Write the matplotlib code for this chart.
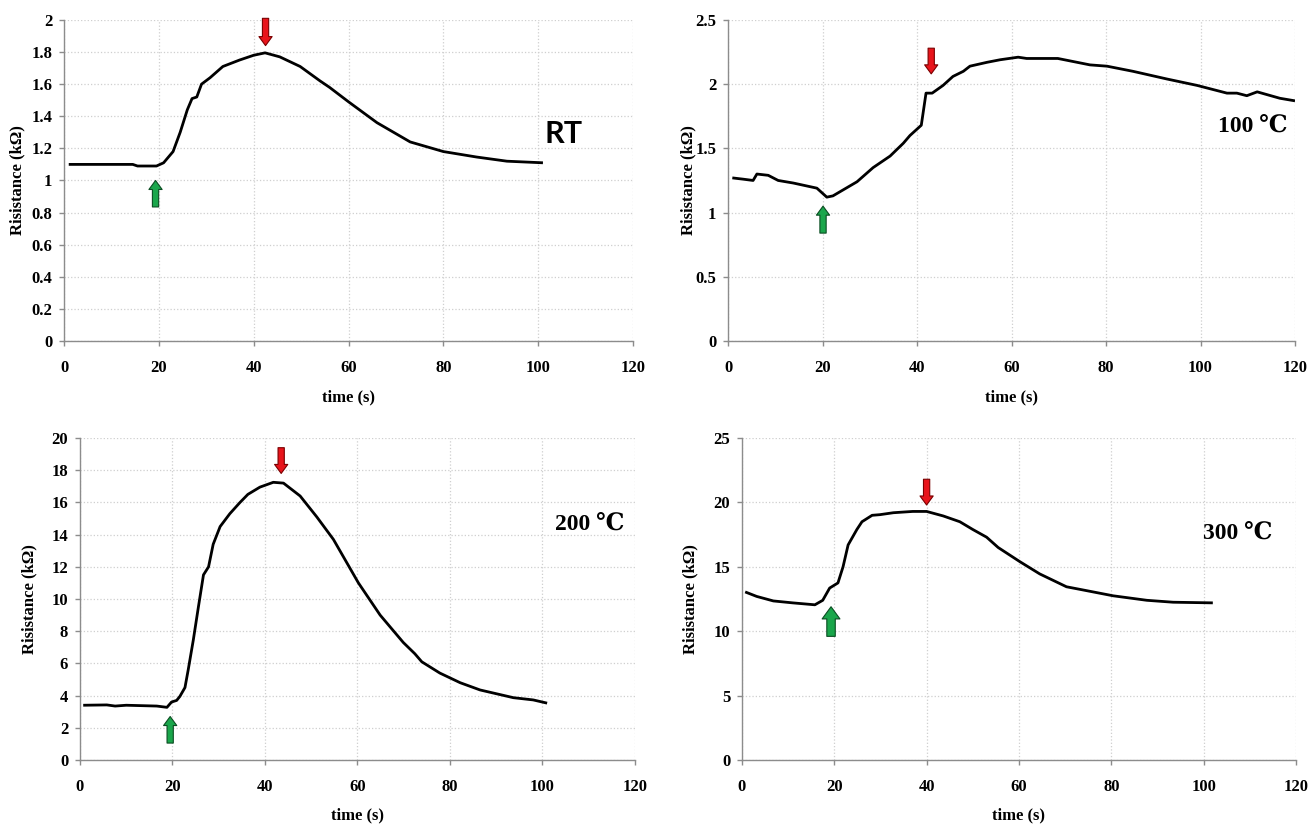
import matplotlib
matplotlib.use("Agg")
import matplotlib.pyplot as plt
import numpy as np

# ---------------- data ----------------
rt_t = [1, 5, 10, 14.5, 15.5, 19.5, 21, 23, 24.5, 26, 27, 28, 29, 30.8, 33.5, 37, 40, 42.4,
        45.5, 49.8, 54, 56, 60, 66, 73, 80, 87, 93.4, 101]
rt_r = [1.10, 1.10, 1.10, 1.10, 1.09, 1.09, 1.11, 1.18, 1.30, 1.44, 1.51, 1.52, 1.60, 1.64,
        1.71, 1.75, 1.78, 1.795, 1.77, 1.71, 1.62, 1.58, 1.49, 1.36, 1.24, 1.18, 1.146, 1.12, 1.11]

t100_t = [0.9, 3.2, 5.3, 6.1, 8.5, 10.6, 13.8, 18.8, 20.9, 22.2, 27.3, 30.7, 34.3, 37.1, 38.5,
          40.9, 41.9, 43.2, 45.5, 47.6, 49.8, 51.2, 54.8, 57.6, 61.4, 63.2, 69.8, 76.6, 80.2,
          85.7, 92.9, 99.3, 105.6, 107.7, 109.8, 112, 116.8, 120]
t100_r = [1.27, 1.26, 1.25, 1.30, 1.29, 1.25, 1.23, 1.19, 1.12, 1.13, 1.24, 1.35, 1.44, 1.54,
          1.60, 1.68, 1.93, 1.93, 1.99, 2.06, 2.10, 2.14, 2.17, 2.19, 2.21, 2.20, 2.20, 2.15,
          2.14, 2.10, 2.04, 1.99, 1.93, 1.93, 1.91, 1.94, 1.89, 1.87]

t200_t = [0.7, 5.8, 7.6, 10, 16.6, 18.8, 19.8, 20.9, 21.6, 22.7, 23.4, 24.5, 25.6, 26.7, 27.8,
          28.8, 30.3, 32.4, 34.6, 36.3, 38.9, 41.8, 44, 47.6, 51.2, 54.8, 60.2, 64.9, 69.9,
          72.4, 73.9, 77.8, 82.2, 86.5, 93.7, 98, 101]
t200_r = [3.4, 3.42, 3.35, 3.4, 3.35, 3.27, 3.6, 3.7, 3.95, 4.5, 5.6, 7.45, 9.5, 11.5, 12.0,
          13.4, 14.5, 15.3, 16.0, 16.5, 16.95, 17.25, 17.2, 16.4, 15.1, 13.7, 11.0, 9.0, 7.3,
          6.6, 6.1, 5.4, 4.8, 4.35, 3.87, 3.73, 3.53]

t300_t = [0.7, 3.2, 6.8, 11, 15.8, 17.5, 19, 20.8, 21.9, 23, 24.9, 26, 28.2, 29.9, 32.8, 37,
          40, 43.6, 47.2, 50, 53, 55.5, 60.2, 64.5, 70.3, 73.2, 80.4, 87.7, 93.4, 102]
t300_r = [13.05, 12.7, 12.35, 12.2, 12.05, 12.4, 13.35, 13.75, 15.0, 16.7, 17.9, 18.5, 19.0,
          19.05, 19.2, 19.3, 19.3, 18.95, 18.5, 17.9, 17.3, 16.5, 15.4, 14.45, 13.45, 13.25,
          12.75, 12.4, 12.25, 12.2]

x_ticks = [0, 20, 40, 60, 80, 100, 120]
rt_yticks = [0, 0.2, 0.4, 0.6, 0.8, 1.0, 1.2, 1.4, 1.6, 1.8, 2.0]
rt_ylabels = ["0", "0.2", "0.4", "0.6", "0.8", "1", "1.2", "1.4", "1.6", "1.8", "2"]
t100_yticks = [0, 0.5, 1.0, 1.5, 2.0, 2.5]
t100_ylabels = ["0", "0.5", "1", "1.5", "2", "2.5"]
t200_yticks = list(range(0, 21, 2))
t300_yticks = list(range(0, 26, 5))

labels = ["RT", "100 \u2103", "200 \u2103", "300 \u2103"]
# (x, y) of label anchor
label_pos = [(101.4, 1.29), (103.7, 1.67), (102.7, 14.66), (99.8, 17.6)]
# arrows: (x, tail_y, tip_y)
red_arrows = [(42.5, 2.01, 1.84), (43.0, 2.28, 2.08), (43.5, 19.4, 17.8), (40.0, 21.8, 19.8)]
green_arrows = [(19.3, 0.835, 1.0), (20.1, 0.84, 1.05), (19.5, 1.05, 2.7), (19.3, 9.6, 11.9)]
green_scale = [1.0, 1.0, 1.0, 1.35]

# ---------------- figure ----------------
serif = ["Liberation Serif", "DejaVu Serif"]
fig = plt.figure(figsize=(13.09, 8.24), dpi=100)
rects = [
    [0.0489, 0.5862, 0.4347, 0.3896],
    [0.5562, 0.5862, 0.4331, 0.3896],
    [0.0611, 0.0777, 0.4240, 0.3907],
    [0.5668, 0.0777, 0.4232, 0.3907],
]
ylab_x = [-0.067, -0.056, -0.076, -0.079]
xlab_y = [-0.15, -0.15, -0.146, -0.146]

series = [(rt_t, rt_r), (t100_t, t100_r), (t200_t, t200_r), (t300_t, t300_r)]
yticks = [rt_yticks, t100_yticks, t200_yticks, t300_yticks]
ylabs = [rt_ylabels, t100_ylabels, [str(v) for v in t200_yticks], [str(v) for v in t300_yticks]]
ylims = [2.0, 2.5, 20, 25]

for i in range(4):
    ax = fig.add_axes(rects[i])
    t, r = series[i]
    ax.plot(t, r, color="black", lw=2.0, solid_joinstyle="round", solid_capstyle="butt")
    ax.set_xlim(0, 120)
    ax.set_ylim(0, ylims[i])
    ax.set_xticks(x_ticks)
    ax.set_xticklabels([str(v) for v in x_ticks], family=serif, fontweight="bold", fontsize=12)
    ax.set_yticks(yticks[i])
    ax.set_yticklabels(ylabs[i], family=serif, fontweight="bold", fontsize=12)
    ax.grid(True, color="#cfcfcf", linestyle=":", linewidth=0.9)
    ax.set_axisbelow(True)
    for s in ["top", "right"]:
        ax.spines[s].set_visible(False)
    for s in ["left", "bottom"]:
        ax.spines[s].set_color("#8c8c8c")
        ax.spines[s].set_linewidth(1.0)
    ax.tick_params(axis="both", direction="out", length=3.5, color="#8c8c8c", width=1.0)
    ax.tick_params(axis="x", pad=10)
    ax.tick_params(axis="y", pad=5)
    ax.set_xlabel("time (s)", family=serif, fontweight="bold", fontsize=12, va="top")
    ax.xaxis.set_label_coords(0.5, xlab_y[i])
    ax.set_ylabel("Risistance (k\u03a9)", family=serif, fontweight="bold", fontsize=12)
    ax.yaxis.set_label_coords(ylab_x[i], 0.5)

    lx, ly = label_pos[i]
    if i == 0:
        ax.text(lx, ly, labels[i], family=["Lato", "DejaVu Sans"], fontweight="bold",
                fontsize=22, ha="left", va="center")
    else:
        ax.text(lx, ly, labels[i], family=serif, fontweight="bold",
                fontsize=17, ha="left", va="center")

    rx, ry0, ry1 = red_arrows[i]
    ax.annotate("", xy=(rx, ry1), xytext=(rx, ry0), annotation_clip=False,
                arrowprops=dict(arrowstyle="simple,head_length=0.65,head_width=0.95,tail_width=0.45",
                                fc="#e8141b", ec="#7a0000", lw=0.8, mutation_scale=10,
                                shrinkA=0, shrinkB=0))
    gx, gy0, gy1 = green_arrows[i]
    sc = green_scale[i]
    ax.annotate("", xy=(gx, gy1), xytext=(gx, gy0), annotation_clip=False,
                arrowprops=dict(arrowstyle="simple,head_length=0.65,head_width=0.95,tail_width=0.45",
                                fc="#1aa64b", ec="#0b4d22", lw=0.8, mutation_scale=10 * sc,
                                shrinkA=0, shrinkB=0))

fig.savefig("out.png", dpi=100)
